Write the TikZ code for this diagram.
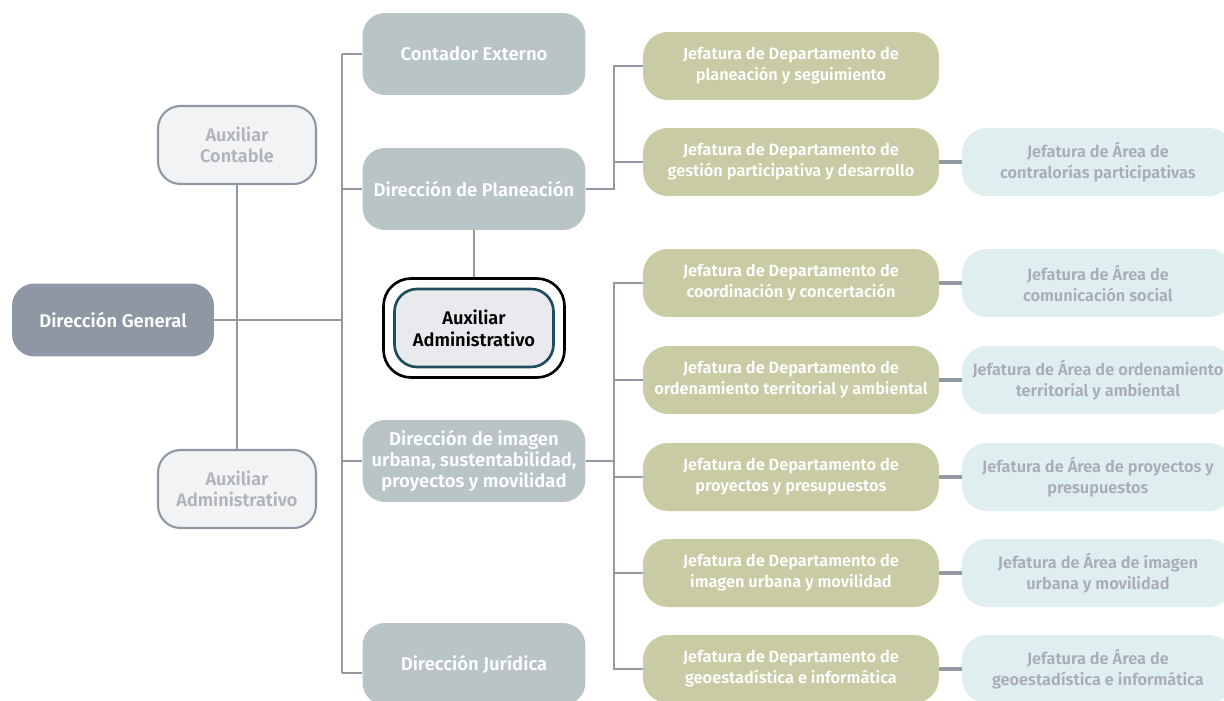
\documentclass[tikz,border=0pt]{standalone}
\usepackage{fontspec}
\IfFontExistsTF{Fira Sans SemiBold}{\setmainfont{Fira Sans SemiBold}}{\setmainfont{Fira Sans}[UprightFont=*, BoldFont=*]}
\usepackage{tikz}
\usetikzlibrary{positioning}
\definecolor{grisosc}{HTML}{8E98A4}
\definecolor{grisdir}{HTML}{B8C4C6}
\definecolor{grisaux}{HTML}{F2F3F5}
\definecolor{txtaux}{HTML}{B0B3B8}
\definecolor{verdejef}{HTML}{C8CBA3}
\definecolor{azularea}{HTML}{DFEEEF}
\definecolor{txtarea}{HTML}{A9ADB3}
\definecolor{lineagris}{HTML}{9199A3}
\definecolor{tealcentro}{HTML}{1E4D5B}
\definecolor{fondocentro}{HTML}{E8EAEE}
\tikzstyle{general} = [rectangle, fill=grisosc, text=white, align=center, rounded corners=0.45cm, minimum width=4.04cm, minimum height=1.46cm, font=\fontsize{10.5}{12}\selectfont]
\tikzstyle{auxbox} = [rectangle, draw=grisosc, line width=1.2pt, fill=grisaux, text=txtaux, align=center, rounded corners=0.45cm, minimum width=3.16cm, minimum height=1.56cm, font=\fontsize{10.3}{12}\selectfont]
\tikzstyle{direccion} = [rectangle, fill=grisdir, text=white, align=center, rounded corners=0.45cm, minimum width=4.46cm, minimum height=1.64cm, font=\fontsize{10.5}{12}\selectfont]
\tikzstyle{jefatura} = [rectangle, fill=verdejef, text=white, align=center, rounded corners=0.5cm, minimum width=5.92cm, minimum height=1.36cm, font=\fontsize{9.3}{12}\selectfont]
\tikzstyle{area} = [rectangle, fill=azularea, text=txtarea, align=center, rounded corners=0.5cm, minimum width=5.44cm, minimum height=1.36cm, font=\fontsize{9.3}{12}\selectfont]
\tikzstyle{link} = [draw=lineagris, line width=1.2pt]
\tikzstyle{linkarea} = [draw=lineagris, line width=1.8pt]

\begin{document}
\begin{tikzpicture}[x=0.02cm, y=-0.02cm, node distance=6.14cm]
    \clip (0,0) rectangle (1224,700);
    \fill[white] (0,0) rectangle (1224,700);
    % columna izquierda
    \node [general] (dgeneral) at (113,320) {Dirección General};
    \node [auxbox] (auxcont) at (237,145) {Auxiliar\\Contable};
    \node [auxbox] (auxadm) at (237,489) {Auxiliar\\Administrativo};
    % direcciones
    \node [direccion] (contador) at (474,54) {Contador Externo};
    \node [direccion] (planeacion) at (474,189) {Dirección de Planeación};
    \node [direccion] (imagen) at (474,461) {Dirección de imagen\\urbana, sustentabilidad,\\proyectos y movilidad};
    \node [direccion] (juridica) at (474,664) {Dirección Jurídica};
    \node [rectangle, draw=black, line width=1.5pt, fill=white, rounded corners=0.55cm, minimum width=3.62cm, minimum height=1.98cm] (centro) at (474,328) {};
    \node [rectangle, draw=tealcentro, line width=1.5pt, fill=fondocentro, align=center, rounded corners=0.45cm, minimum width=3.18cm, minimum height=1.56cm, font=\fontsize{10.4}{12.5}\selectfont] (auxcentro) at (centro) {Auxiliar\\Administrativo};
    % jefaturas de departamento
    \node [jefatura] (jefe1) at (791,66) {Jefatura de Departamento de\\planeación y seguimiento};
    \node [jefatura] (jefe2) at (791,162) {Jefatura de Departamento de\\gestión participativa y desarrollo};
    \node [jefatura] (jefe3) at (791,283) {Jefatura de Departamento de\\coordinación y concertación};
    \node [jefatura] (jefe4) at (791,380) {Jefatura de Departamento de\\ordenamiento territorial y ambiental};
    \node [jefatura] (jefe5) at (791,477) {Jefatura de Departamento de\\proyectos y presupuestos};
    \node [jefatura] (jefe6) at (791,573) {Jefatura de Departamento de\\imagen urbana y movilidad};
    \node [jefatura] (jefe7) at (791,669) {Jefatura de Departamento de\\geoestadística e informática};
    % jefaturas de area
    \node [area, right of=jefe2] (area2) {Jefatura de Área de\\contralorías participativas};
    \node [area, right of=jefe3] (area3) {Jefatura de Área de\\comunicación social};
    \node [area, right of=jefe4] (area4) {Jefatura de Área de ordenamiento\\territorial y ambiental};
    \node [area, right of=jefe5] (area5) {Jefatura de Área de proyectos y\\presupuestos};
    \node [area, right of=jefe6] (area6) {Jefatura de Área de imagen\\urbana y movilidad};
    \node [area, right of=jefe7] (area7) {Jefatura de Área de\\geoestadística e informática};
    % conectores
    \coordinate (busTop) at (342,54);
    \coordinate (busBot) at (342,673);
    \path [link] (busTop) -- (busBot);
    \path [link] (dgeneral.east) -- (dgeneral.east -| busTop);
    \path [link] (auxcont.south) -- (auxadm.north);
    \path [link] (busTop) -- (contador.west);
    \path [link] (planeacion.west -| busTop) -- (planeacion.west);
    \path [link] (imagen.west -| busTop) -- (imagen.west);
    \path [link] (busBot) -- (busBot -| juridica.west);
    \path [link] (planeacion.south) -- (centro.north);
    \path [link] (planeacion.east) -- ++(28,0) |- (jefe1.west);
    \path [link] (planeacion.east) -- ++(28,0) |- (jefe2.west);
    \foreach \j in {3,...,7}
        \path [link] (imagen.east) -- ++(28,0) |- (jefe\j.west);
    \foreach \j in {2,...,7}
        \path [linkarea] (jefe\j.east) -- (area\j.west);
\end{tikzpicture}
\end{document}
